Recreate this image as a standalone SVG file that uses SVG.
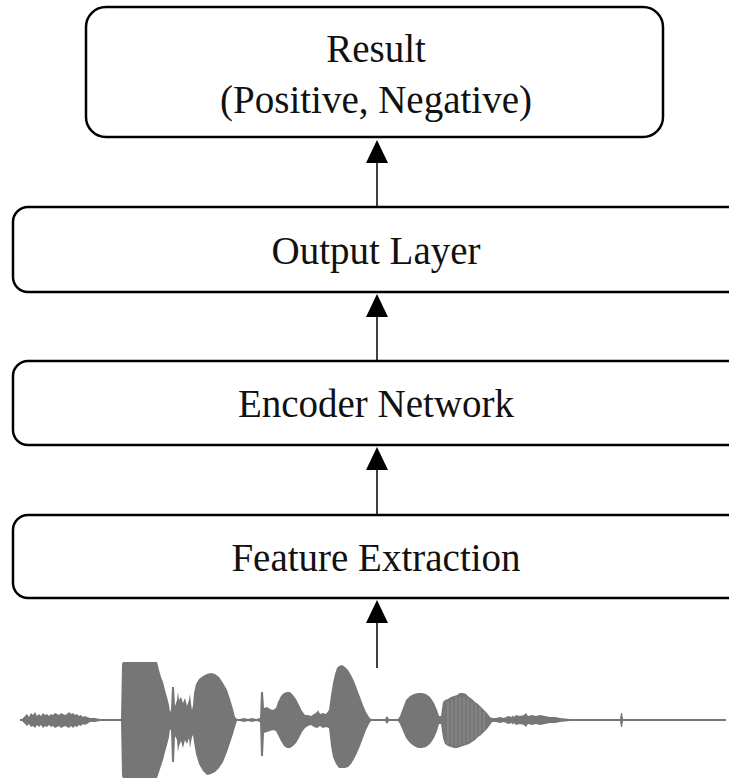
<svg xmlns="http://www.w3.org/2000/svg" width="729" height="781" viewBox="0 0 729 781">
  <style>
    .box { fill: #ffffff; stroke: #000000; stroke-width: 2.5; }
    .label { font-family: "Liberation Serif", "Times New Roman", serif; font-size: 39px; fill: #111111; text-anchor: middle; }
    .link { stroke: #000000; stroke-width: 1.5; fill: none; }
    .head { fill: #000000; }
    .wave { fill: #767676; stroke: none; }
    .stripe { stroke: #9a9a9a; stroke-width: 0.8; }
  </style>
  <rect width="729" height="781" fill="#ffffff"/>

  <g id="result">
    <rect class="box" x="86" y="7" width="577" height="130" rx="20" ry="20"/>
    <text class="label" x="376" y="62">Result</text>
    <text class="label" x="376" y="113">(Positive, Negative)</text>
  </g>

  <g id="output-layer">
    <rect class="box" x="13" y="207" width="740" height="85" rx="15" ry="15"/>
    <text class="label" x="376" y="264">Output Layer</text>
  </g>

  <g id="encoder-network">
    <rect class="box" x="13" y="361" width="740" height="84" rx="15" ry="15"/>
    <text class="label" x="376" y="417">Encoder Network</text>
  </g>

  <g id="feature-extraction">
    <rect class="box" x="13" y="515" width="740" height="83" rx="15" ry="15"/>
    <text class="label" x="376" y="571">Feature Extraction</text>
  </g>

  <g id="connectors">
    <line class="link" x1="377" y1="160" x2="377" y2="207"/>
    <polygon class="head" points="377,140 366,163 388,163"/>
    <line class="link" x1="377" y1="314" x2="377" y2="361"/>
    <polygon class="head" points="377,294 366,317 388,317"/>
    <line class="link" x1="377" y1="467" x2="377" y2="515"/>
    <polygon class="head" points="377,447 366,470 388,470"/>
    <line class="link" x1="377" y1="620" x2="377" y2="668"/>
    <polygon class="head" points="377,600 366,623 388,623"/>
  </g>

  <!-- speech waveform (input signal) -->
  <g id="waveform">
    <line x1="20" y1="720" x2="726" y2="720" stroke="#767676" stroke-width="2"/>
    <polygon class="wave" points="
      20,720 22,719 25,716 27,714 29,717 31,713 33,715 35,712 37,716 39,714 41,716 43,713 45,715 47,714 49,716 51,714 53,715 55,713 57,714 59,715 61,713 63,714 65,715 67,714 69,712 71,714 73,713 75,715 77,714 79,716 81,715 83,717 85,716 87,717 90,718 95,718 100,719 120,719
      121,719 122,664 123,662 157,662 159,670 161,677 163,682 165,690 167,697 169,705 170,712 171,710 172,687 174,687 175,706 177,700 178,692 179,700 181,697 183,703 185,698 187,706 189,700 190,694 191,704 192,710 193,705 194,693 196,684 199,679 203,676 207,674 211,673 215,674 219,677 223,683 227,690 230,699 233,709 235,717 237,719
      240,719 244,718 248,719 252,718 256,719 260,718 261,692 263,692 264,708 267,707 270,709 273,710 276,708 278,702 281,696 284,693 287,692 290,692 293,695 296,699 299,705 302,711 305,715 308,715 311,716 314,714 317,712 318,710 320,714 323,713 326,714 329,710
      331,695 333,683 335,674 337,668 339,666 342,665 345,667 348,670 351,675 354,681 357,689 360,697 363,705 366,712 369,717 371,719 385,719 387,716 389,719 398,719
      400,716 403,708 406,700 410,696 414,694 418,693 422,693 426,694 430,697 434,703 437,710 439,716 441,716 443,702 445,700 448,699 451,697 454,696 457,695 460,693 463,693 466,694 469,697 472,699 475,702 478,704 481,707 484,710 487,713 490,717 492,718
      496,718 500,717 504,718 508,716 512,717 513,715 514,717 516,715 520,716 524,715 526,713 528,716 532,715 536,716 540,715 545,716 550,717 555,717 560,718 570,719 620,719 621,713 622,713 623,719 725,719
      725,721 623,721 622,727 621,727 620,721 570,721 560,722 555,723 550,723 545,724 540,725 536,724 532,725 528,724 526,727 524,725 520,724 516,725 514,723 513,725 512,723 508,724 504,722 500,723 496,722
      492,722 490,725 487,729 484,732 481,735 478,737 475,740 472,742 469,744 466,745 463,746 460,747 457,748 454,748 451,747 448,746 445,744 443,738 441,724 439,724 437,731 434,738 430,744 426,747 422,748 418,748 414,746 410,743 406,738 403,731 400,724
      398,721 389,721 387,724 385,721 371,721 369,724 366,730 363,738 360,746 357,753 354,759 351,764 348,767 345,768 342,768 339,768 336,764 333,757 331,746
      329,728 326,727 323,728 320,726 317,728 314,727 311,725 308,726 305,728 302,732 299,738 296,743 293,746 290,748 287,748 284,746 281,741 278,735 276,731 273,730 270,731 267,732 264,733 263,756 261,756 260,722 256,721 252,722 248,721 244,722 240,721
      237,721 235,727 233,734 230,743 227,752 223,762 219,768 215,772 211,774 207,775 203,771 199,764 196,754 194,742 193,735 192,737 191,742 190,748 189,738 187,744 185,740 183,748 181,741 179,746 178,752 177,740 175,736 174,762 172,762 171,731 170,729 169,737 167,745 165,752 163,760 161,766 159,772 157,778 123,778 122,776 121,721
      120,721 100,721 95,722 90,722 87,724 85,725 83,724 81,726 79,725 77,727 75,726 73,728 71,726 69,728 67,727 65,726 63,727 61,728 59,726 57,727 55,728 53,726 51,727 49,725 47,727 45,726 43,728 41,725 39,727 37,725 35,728 33,726 31,727 29,724 27,726 25,724 22,721 20,721"/>
    <!-- individual pitch pulses in the last voiced segment -->
    <path class="stripe" d="M448,702 V744 M452,700 V745 M456,698 V746 M460,697 V745 M464,697 V744 M468,699 V742 M472,702 V740 M476,705 V737 M480,708 V734 M484,712 V730"/>
  </g>
</svg>
